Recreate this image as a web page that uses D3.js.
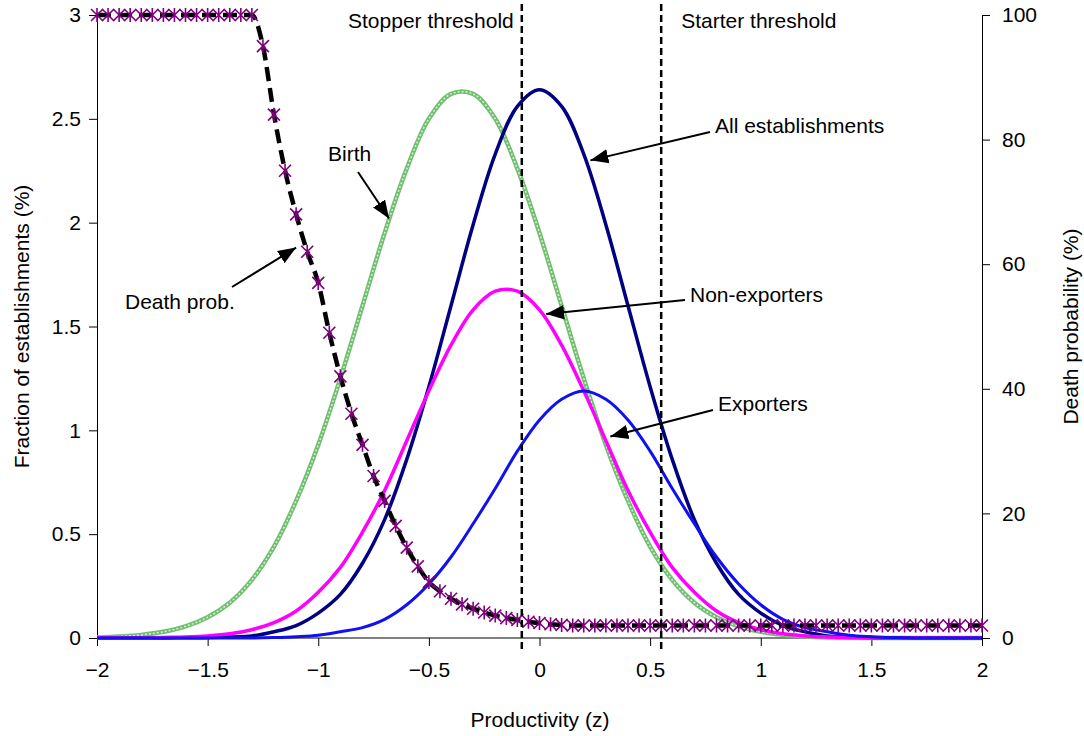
<!DOCTYPE html>
<html><head><meta charset="utf-8">
<script src="https://cdn.jsdelivr.net/npm/d3@7"></script>
<style>body{margin:0;background:#fff}text{font-family:"Liberation Sans",Arial,sans-serif}</style>
</head><body>
<svg width="1084" height="736"></svg>
<script>
// z grid for the density curves (step 0.1)
var zGrid = d3.range(41).map(function(i){ return +(-2 + i*0.1).toFixed(2); });
var allEst = [0,0,0,0,0.001,0.002,0.005,0.01,0.03,0.06,0.12,0.21,0.36,0.57,0.86,1.21,1.60,1.99,2.33,2.56,2.64,2.56,2.33,1.99,1.60,1.21,0.86,0.57,0.36,0.21,0.12,0.06,0.03,0.01,0.005,0.002,0.001,0,0,0,0];
var nonExp = [0,0,0,0.003,0.005,0.01,0.02,0.04,0.074,0.13,0.22,0.34,0.51,0.71,0.95,1.19,1.41,1.58,1.67,1.67,1.58,1.41,1.19,0.95,0.71,0.51,0.34,0.22,0.13,0.074,0.04,0.02,0.01,0.005,0.002,0,0,0,0,0,0];
var exporters = [0,0,0,0,0,0,0,0,0.002,0.006,0.013,0.03,0.05,0.09,0.16,0.26,0.39,0.55,0.72,0.90,1.05,1.15,1.19,1.15,1.05,0.90,0.72,0.55,0.39,0.26,0.16,0.09,0.05,0.03,0.013,0.006,0.002,0,0,0,0];
var birth = [0.003,0.007,0.015,0.03,0.056,0.10,0.17,0.28,0.44,0.66,0.93,1.25,1.60,1.95,2.26,2.50,2.62,2.62,2.50,2.26,1.95,1.60,1.25,0.93,0.66,0.44,0.28,0.17,0.10,0.056,0.03,0.015,0.007,0.003,0.001,0,0,0,0,0,0];

// death probability (%), step 0.05
var zDeath = d3.range(81).map(function(i){ return +(-2 + i*0.05).toFixed(2); });
var death = [100,100,100,100,100,100,100,100,100,100,100,100,100,100,100,
  95,84,75,68,62,57,49,42,36,31,26,22,18,14.5,11.5,9,7.5,6.3,5.4,4.7,4.1,3.6,3.2,2.9,2.6,2.4,2.2,2.1,
  2,2,2,2,2,2,2,2,2,2,2,2,2,2,2,2,2,2,2,2,2,2,2,2,2,2,2,2,2,2,2,2,2,2,2,2,2,2];

var xTicks = [-2,-1.5,-1,-0.5,0,0.5,1,1.5,2];
var yTicks = [0,0.5,1,1.5,2,2.5,3];
var y2Ticks = [0,20,40,60,80,100];
var thresholds = [{z:-0.08,label:"Stopper threshold"},{z:0.55,label:"Starter threshold"}];
var notes = [
  {text:"All establishments", tx:715, ty:133, from:[710,132], z:0.23, v:2.3},
  {text:"Non-exporters", tx:690, ty:302, from:[685,300], z:0.03, v:1.56},
  {text:"Exporters", tx:718, ty:411, from:[713,410], z:0.32, v:0.97},
  {text:"Birth", tx:328, ty:161, from:[358,172], z:-0.68, v:2.02},
  {text:"Death prob.", tx:125, ty:309, from:[232,287], z:-1.1, v:1.88}
];

var svg = d3.select("svg");
var L = 97, R = 982, T = 15, B = 638;
var x = d3.scaleLinear().domain([-2,2]).range([L,R]);
var y = d3.scaleLinear().domain([0,3]).range([B,T]);
var y2 = d3.scaleLinear().domain([0,100]).range([B,T]);
var FS = "21px";

svg.append("defs").append("marker").attr("id","arr").attr("viewBox","0 0 10 10")
  .attr("refX",10).attr("refY",5).attr("markerWidth",9).attr("markerHeight",9).attr("orient","auto")
  .append("path").attr("d","M0,1L10,5L0,9z").attr("fill","#000");

function axisStyle(g){
  g.selectAll("text").style("font-size",FS).attr("fill","#000");
  g.select(".domain").attr("stroke","#000");
  g.selectAll(".tick line").attr("stroke","#000");
}
svg.append("g").attr("transform","translate(0,"+B+")")
  .call(d3.axisBottom(x).tickValues(xTicks).tickSize(8).tickPadding(16).tickFormat(d3.format("")))
  .call(axisStyle).call(function(g){ g.select(".domain").attr("d","M"+L+",0H"+R); });
svg.append("g").attr("transform","translate("+L+",0)")
  .call(d3.axisLeft(y).tickValues(yTicks).tickSize(8).tickPadding(8).tickFormat(d3.format("")))
  .call(axisStyle);
svg.append("g").attr("transform","translate("+R+",0)")
  .call(d3.axisRight(y2).tickValues(y2Ticks).tickSize(8).tickPadding(12))
  .call(axisStyle);

svg.append("text").attr("x",540).attr("y",727).attr("text-anchor","middle").style("font-size",FS).text("Productivity (z)");
svg.append("text").attr("transform","translate(29,"+((T+B)/2)+") rotate(-90)").attr("text-anchor","middle").style("font-size",FS).text("Fraction of establishments (%)");
svg.append("text").attr("transform","translate(1078,"+((T+B)/2)+") rotate(-90)").attr("text-anchor","middle").style("font-size",FS).text("Death probability (%)");

var line = d3.line().x(function(d){return x(d[0]);}).y(function(d){return y(d[1]);}).curve(d3.curveCatmullRom);
function pairs(xs, vs){ return xs.map(function(z,i){ return [z, vs[i]]; }); }

// birth: green line with small circle markers
var birthPts = pairs(zGrid, birth);
svg.append("path").attr("d", line(birthPts)).attr("fill","none").attr("stroke","#6fbf6f").attr("stroke-width",4.5);
svg.append("path").attr("d", line(birthPts)).attr("fill","none").attr("stroke","#d8f0d8").attr("stroke-width",1.5).attr("stroke-dasharray","2,2");

svg.append("path").attr("d", line(pairs(zGrid, allEst))).attr("fill","none").attr("stroke","#000080").attr("stroke-width",3.5);
svg.append("path").attr("d", line(pairs(zGrid, nonExp))).attr("fill","none").attr("stroke","#ff00ff").attr("stroke-width",3.5);
svg.append("path").attr("d", line(pairs(zGrid, exporters))).attr("fill","none").attr("stroke","#1010f0").attr("stroke-width",3);

// death probability: dashed black with purple asterisks
var dLine = d3.line().x(function(d){return x(d[0]);}).y(function(d){return y2(d[1]);}).curve(d3.curveMonotoneX);
var deathPts = pairs(zDeath, death);
svg.append("path").attr("d", dLine(deathPts)).attr("fill","none").attr("stroke","#000").attr("stroke-width",4.5).attr("stroke-dasharray","14,7");
svg.append("g").selectAll("path").data(deathPts).enter().append("path")
  .attr("d", "M-6,-6L6,6M-6,6L6,-6M0,-7L0,7")
  .attr("transform", function(d){ return "translate("+x(d[0])+","+y2(d[1])+")"; })
  .attr("stroke","#800080").attr("stroke-width",1.6).attr("fill","none");

// thresholds
thresholds.forEach(function(t, i){
  svg.append("line").attr("x1",x(t.z)).attr("x2",x(t.z)).attr("y1",4).attr("y2",B+12)
    .attr("stroke","#000").attr("stroke-width",2.5).attr("stroke-dasharray","7,4");
  svg.append("text").attr("x", i==0 ? x(t.z)-8 : x(t.z)+20).attr("y",28)
    .attr("text-anchor", i==0 ? "end" : "start").style("font-size",FS).text(t.label);
});

notes.forEach(function(n){
  svg.append("text").attr("x",n.tx).attr("y",n.ty).style("font-size",FS).text(n.text);
  svg.append("line").attr("x1",n.from[0]).attr("y1",n.from[1]).attr("x2",x(n.z)).attr("y2",y(n.v))
    .attr("stroke","#000").attr("stroke-width",2).attr("marker-end","url(#arr)");
});
</script>
</body></html>
